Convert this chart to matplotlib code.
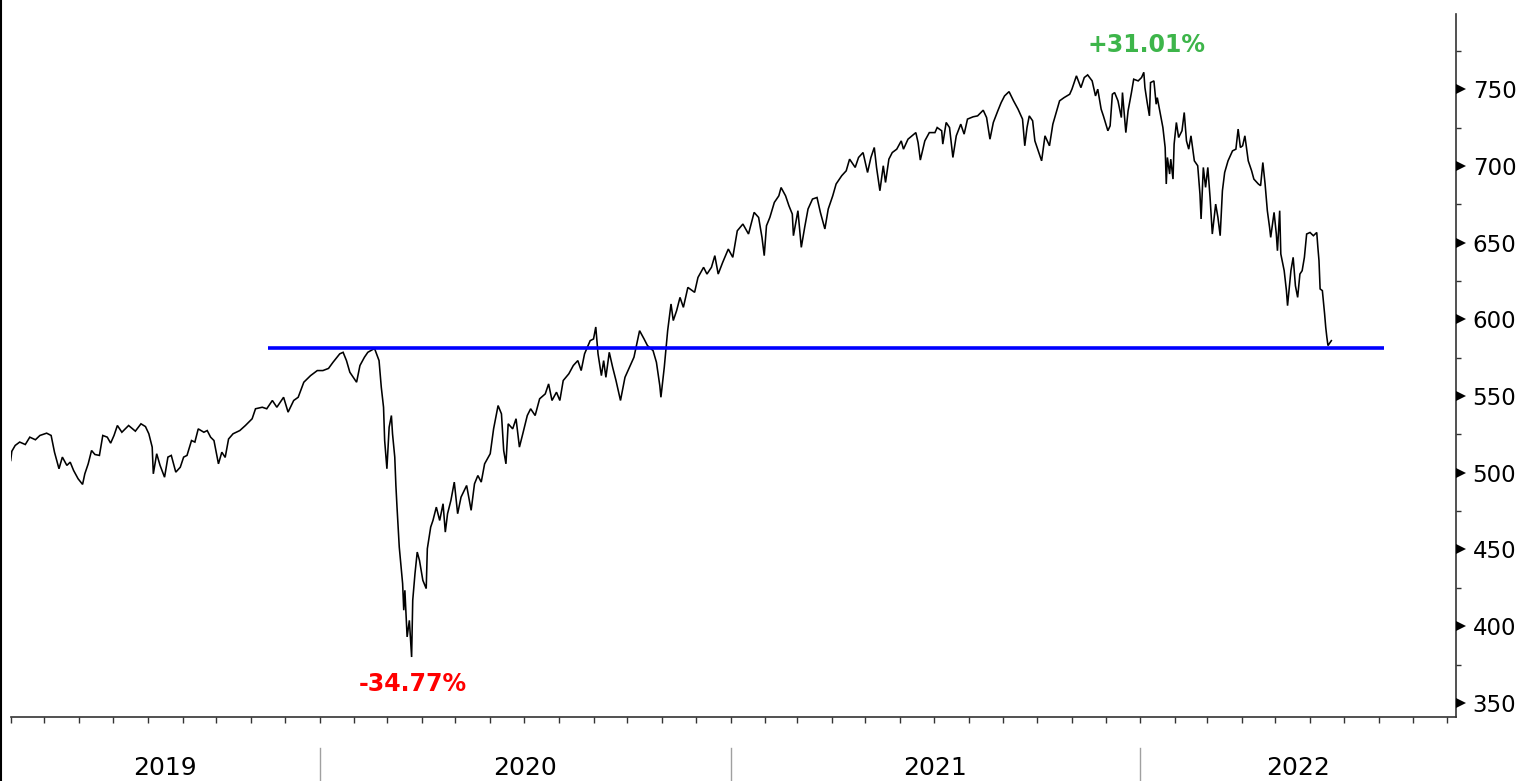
import matplotlib
matplotlib.use('Agg')
import matplotlib.pyplot as plt
import matplotlib.dates as mdates
import matplotlib.transforms as mtransforms
from matplotlib.lines import Line2D
from matplotlib.ticker import FixedLocator, NullFormatter
import pandas as pd

# ---------------- data ----------------
dates = [
    '2019-04-01', '2019-04-02', '2019-04-05', '2019-04-09', '2019-04-14', '2019-04-18', '2019-04-23', '2019-04-27',
    '2019-05-03', '2019-05-07', '2019-05-10', '2019-05-14', '2019-05-17', '2019-05-21', '2019-05-24', '2019-05-27',
    '2019-05-31', '2019-06-04', '2019-06-06', '2019-06-09', '2019-06-12', '2019-06-15', '2019-06-19', '2019-06-22',
    '2019-06-26', '2019-06-29', '2019-07-02', '2019-07-05', '2019-07-09', '2019-07-12', '2019-07-15', '2019-07-21',
    '2019-07-26', '2019-07-30', '2019-08-02', '2019-08-05', '2019-08-06', '2019-08-09', '2019-08-12', '2019-08-16',
    '2019-08-19', '2019-08-22', '2019-08-26', '2019-08-30', '2019-09-02', '2019-09-05', '2019-09-09', '2019-09-12',
    '2019-09-15', '2019-09-20', '2019-09-23', '2019-09-26', '2019-09-29', '2019-10-03', '2019-10-06', '2019-10-09',
    '2019-10-12', '2019-10-16', '2019-10-22', '2019-10-27', '2019-11-02', '2019-11-05', '2019-11-11', '2019-11-15',
    '2019-11-20', '2019-11-24', '2019-11-30', '2019-12-04', '2019-12-09', '2019-12-13', '2019-12-18', '2019-12-24',
    '2019-12-30',
    '2020-01-04', '2020-01-09', '2020-01-13', '2020-01-19', '2020-01-22', '2020-01-25', '2020-01-28', '2020-02-03',
    '2020-02-06', '2020-02-10', '2020-02-13', '2020-02-19', '2020-02-23', '2020-02-25', '2020-02-27', '2020-02-28',
    '2020-03-01', '2020-03-03', '2020-03-05', '2020-03-06', '2020-03-08', '2020-03-09', '2020-03-10', '2020-03-12',
    '2020-03-15', '2020-03-16', '2020-03-17', '2020-03-19', '2020-03-21', '2020-03-23', '2020-03-24', '2020-03-26',
    '2020-03-28', '2020-03-30', '2020-04-02', '2020-04-05', '2020-04-06', '2020-04-09', '2020-04-11', '2020-04-14',
    '2020-04-17', '2020-04-20', '2020-04-22', '2020-04-24', '2020-04-27', '2020-04-30', '2020-05-03', '2020-05-06',
    '2020-05-11', '2020-05-15', '2020-05-18', '2020-05-21', '2020-05-24', '2020-05-27', '2020-06-01', '2020-06-04',
    '2020-06-08', '2020-06-11', '2020-06-13', '2020-06-15', '2020-06-17', '2020-06-21', '2020-06-24', '2020-06-27',
    '2020-06-30', '2020-07-04', '2020-07-07', '2020-07-11', '2020-07-15', '2020-07-20', '2020-07-23', '2020-07-26',
    '2020-07-30', '2020-08-02', '2020-08-05', '2020-08-10', '2020-08-14', '2020-08-18', '2020-08-21', '2020-08-24',
    '2020-08-29', '2020-09-01', '2020-09-03', '2020-09-05', '2020-09-08', '2020-09-10', '2020-09-12', '2020-09-15',
    '2020-09-18', '2020-09-21', '2020-09-25', '2020-09-29', '2020-10-03', '2020-10-07', '2020-10-12', '2020-10-16',
    '2020-10-19', '2020-10-24', '2020-10-27', '2020-10-30', '2020-10-31', '2020-11-03', '2020-11-06', '2020-11-09',
    '2020-11-11', '2020-11-14', '2020-11-17', '2020-11-20', '2020-11-24', '2020-11-30', '2020-12-03', '2020-12-08',
    '2020-12-11', '2020-12-15', '2020-12-18', '2020-12-21', '2020-12-25', '2020-12-30',
    '2021-01-03', '2021-01-07', '2021-01-12', '2021-01-17', '2021-01-22', '2021-01-26', '2021-01-29', '2021-01-31',
    '2021-02-02', '2021-02-05', '2021-02-09', '2021-02-13', '2021-02-15', '2021-02-19', '2021-02-22', '2021-02-25',
    '2021-02-26', '2021-03-02', '2021-03-05', '2021-03-08', '2021-03-11', '2021-03-15', '2021-03-19', '2021-03-22',
    '2021-03-26', '2021-03-29', '2021-04-02', '2021-04-05', '2021-04-10', '2021-04-14', '2021-04-17', '2021-04-22',
    '2021-04-25', '2021-04-29', '2021-05-03', '2021-05-06', '2021-05-09', '2021-05-11', '2021-05-14', '2021-05-17',
    '2021-05-19', '2021-05-22', '2021-05-25', '2021-05-29', '2021-06-02', '2021-06-04', '2021-06-08', '2021-06-15',
    '2021-06-17', '2021-06-19', '2021-06-23', '2021-06-27', '2021-07-02', '2021-07-04', '2021-07-08', '2021-07-09',
    '2021-07-12', '2021-07-15', '2021-07-18', '2021-07-21', '2021-07-25', '2021-07-28', '2021-07-31', '2021-08-05',
    '2021-08-09', '2021-08-14', '2021-08-17', '2021-08-20', '2021-08-23', '2021-08-27', '2021-08-30', '2021-09-02',
    '2021-09-06', '2021-09-10', '2021-09-14', '2021-09-18', '2021-09-20', '2021-09-22', '2021-09-24', '2021-09-27',
    '2021-09-29', '2021-10-02', '2021-10-05', '2021-10-08', '2021-10-12', '2021-10-15', '2021-10-18', '2021-10-21',
    '2021-10-25', '2021-10-30', '2021-11-01', '2021-11-05', '2021-11-09', '2021-11-12', '2021-11-15', '2021-11-19',
    '2021-11-22', '2021-11-24', '2021-11-27', '2021-11-29', '2021-12-03', '2021-12-05', '2021-12-07', '2021-12-09',
    '2021-12-12', '2021-12-15', '2021-12-16', '2021-12-19', '2021-12-21', '2021-12-24', '2021-12-26', '2021-12-30',
    '2022-01-02', '2022-01-04', '2022-01-05', '2022-01-07', '2022-01-09', '2022-01-10', '2022-01-13', '2022-01-15',
    '2022-01-16', '2022-01-19', '2022-01-21', '2022-01-23', '2022-01-24', '2022-01-25', '2022-01-27', '2022-01-28',
    '2022-01-30', '2022-01-31', '2022-02-02', '2022-02-04', '2022-02-07', '2022-02-09', '2022-02-11', '2022-02-13',
    '2022-02-15', '2022-02-18', '2022-02-21', '2022-02-23', '2022-02-24', '2022-02-26', '2022-02-28', '2022-03-02',
    '2022-03-04', '2022-03-06', '2022-03-09', '2022-03-11', '2022-03-13', '2022-03-15', '2022-03-17', '2022-03-20',
    '2022-03-24', '2022-03-27', '2022-03-29', '2022-03-31', '2022-04-02', '2022-04-04', '2022-04-07', '2022-04-10',
    '2022-04-12', '2022-04-16', '2022-04-18', '2022-04-20', '2022-04-22', '2022-04-24', '2022-04-26', '2022-04-27',
    '2022-04-30', '2022-05-02', '2022-05-03', '2022-05-05', '2022-05-06', '2022-05-09', '2022-05-11', '2022-05-12',
    '2022-05-15', '2022-05-17', '2022-05-19', '2022-05-21', '2022-05-23', '2022-05-25', '2022-05-27', '2022-05-29',
    '2022-06-01', '2022-06-04', '2022-06-07', '2022-06-08', '2022-06-09', '2022-06-10', '2022-06-12', '2022-06-14',
    '2022-06-15', '2022-06-16', '2022-06-17', '2022-06-20',
]

values = [
    508.0, 514.0, 517.8, 520.0, 518.4, 523.2, 521.5, 524.3,
    525.8, 524.3, 513.4, 502.6, 510.2, 504.8, 506.9, 501.5,
    496.1, 492.4, 499.3, 505.8, 514.5, 511.9, 511.3, 524.3,
    523.2, 519.3, 524.3, 530.8, 526.4, 528.6, 530.8, 527.1,
    531.9, 530.1, 525.4, 516.7, 499.3, 512.4, 504.8, 497.1,
    510.2, 511.3, 500.4, 503.6, 510.2, 511.3, 521.0, 520.0,
    528.6, 526.4, 527.5, 523.2, 521.0, 505.8, 513.4, 510.0,
    522.0, 525.4, 527.5, 530.8, 535.2, 541.7, 542.7, 541.7,
    547.1, 542.7, 549.2, 539.5, 547.1, 549.2, 559.0, 563.3,
    566.6,
    566.6, 568.0, 572.0, 577.5, 578.5, 573.1, 565.5, 559.0,
    569.9, 575.3, 578.5, 581.0, 573.1, 555.7, 542.7, 521.0,
    502.6, 529.7, 537.3, 525.4, 510.2, 491.7, 477.6, 451.6,
    427.7, 410.4, 423.4, 393.0, 403.8, 379.9, 416.9, 434.2,
    448.3, 442.9, 429.9, 424.5, 450.5, 464.6, 468.9, 477.6,
    468.9, 479.8, 461.3, 473.3, 482.0, 493.9, 473.3, 484.1,
    491.7, 475.5, 492.8, 498.2, 493.9, 505.8, 512.4, 528.6,
    543.8, 538.4, 514.5, 505.8, 531.9, 528.6, 535.2, 516.7,
    525.4, 537.3, 541.7, 537.3, 548.2, 551.4, 557.9, 547.1,
    552.5, 547.1, 560.1, 564.5, 569.9, 573.1, 566.6, 577.5,
    586.1, 587.2, 595.0, 577.5, 563.3, 573.1, 562.2, 578.5,
    568.8, 560.1, 547.1, 562.2, 568.8, 575.3, 592.6, 587.2,
    582.9, 579.6, 572.0, 556.8, 549.2, 568.8, 592.6, 610.0,
    599.2, 605.7, 614.3, 607.8, 620.8, 617.6, 627.3, 633.9,
    629.5, 633.9, 641.5, 629.5, 637.1, 645.8,
    640.4, 657.7, 662.1, 655.6, 669.7, 666.4, 653.4, 641.5,
    661.0, 666.4, 676.2, 680.5, 685.9, 680.5, 674.0, 668.6,
    654.5, 670.8, 646.9, 659.9, 671.9, 678.4, 679.4, 669.7,
    658.9, 671.9, 680.5, 688.2, 693.6, 696.8, 704.4, 699.0,
    705.5, 708.7, 695.7, 705.5, 712.0, 699.0, 683.8, 700.1,
    689.2, 704.4, 708.7, 710.9, 716.3, 710.9, 717.4, 721.7,
    715.2, 703.8, 716.3, 721.7, 721.7, 725.0, 722.9, 714.2,
    728.3, 725.0, 705.5, 719.6, 727.2, 720.7, 730.5, 732.0,
    732.6, 736.3, 731.5, 717.4, 728.3, 735.9, 741.3, 745.6,
    748.4, 742.4, 737.0, 730.5, 713.1, 725.0, 732.6, 729.4,
    716.3, 709.8, 703.3, 719.6, 713.1, 727.2, 734.8, 742.4,
    744.5, 746.7, 750.0, 758.7, 751.0, 757.6, 759.3, 755.4,
    745.6, 750.0, 737.0, 732.6, 722.9, 726.1, 746.7, 747.8,
    742.4, 731.5, 747.8, 721.7, 735.9, 747.8, 756.5, 755.4,
    757.6, 761.0, 751.0, 741.3, 732.6, 754.3, 755.4, 740.2,
    744.5, 732.6, 725.0, 712.0, 688.2, 705.5, 694.7, 704.4,
    691.4, 714.2, 728.3, 718.5, 722.9, 734.8, 716.3, 710.9,
    719.6, 703.3, 700.1, 681.6, 665.4, 699.0, 686.0, 699.0,
    679.4, 655.6, 675.1, 666.4, 654.5, 683.8, 695.7, 703.3,
    709.8, 710.9, 724.0, 712.0, 713.1, 719.6, 703.3, 696.8,
    691.4, 688.2, 687.1, 702.2, 688.2, 670.8, 659.9, 653.4,
    669.7, 655.6, 644.7, 670.8, 642.6, 631.7, 618.7, 608.9,
    631.7, 640.4, 621.9, 614.3, 629.5, 631.7, 640.4, 655.6,
    656.6, 654.5, 656.6, 646.9, 638.2, 619.8, 618.7, 603.5,
    594.8, 588.3, 582.9, 586.1,
]

support_level = 581.0
support_start = '2019-11-16'
support_end = '2022-08-06'

low_label = '-34.77%'
low_label_date = '2020-03-24'
low_label_value = 362.0
high_label = '+31.01%'
high_label_date = '2022-01-06'
high_label_value = 779.0

year_labels = ['2019', '2020', '2021', '2022']
year_bounds = ['2019-04-01', '2020-01-01', '2021-01-01', '2022-01-01', '2022-10-09']
ytick_values = [350, 400, 450, 500, 550, 600, 650, 700, 750]
yminor_values = [375, 425, 475, 525, 575, 625, 675, 725, 775]
y_limits = (341, 799)

# ---------------- figure ----------------
W, H = 1521, 781
fig = plt.figure(figsize=(W / 100, H / 100), dpi=100)
fig.patch.set_facecolor('white')
ax = fig.add_axes([10.7 / W, 1 - 716.7 / H, (1456 - 10.7) / W, (716.7 - 14) / H])

xd = pd.to_datetime(dates)
ax.plot(xd, values, color='black', lw=1.15, solid_joinstyle='miter')
ax.hlines(support_level, pd.Timestamp(support_start), pd.Timestamp(support_end),
          color='#0000ff', lw=2.6, zorder=3)

ax.text(pd.Timestamp(low_label_date), low_label_value, low_label, color='#ff0000',
        fontsize=17, fontweight='bold', ha='center', va='center', family='DejaVu Sans')
ax.text(pd.Timestamp(high_label_date), high_label_value, high_label, color='#3db54a',
        fontsize=17, fontweight='bold', ha='center', va='center', family='DejaVu Sans')

ax.set_xlim(pd.Timestamp(year_bounds[0]), pd.Timestamp(year_bounds[-1]))
ax.set_ylim(*y_limits)

# spines
for s in ['top', 'left']:
    ax.spines[s].set_visible(False)
for s in ['right', 'bottom']:
    ax.spines[s].set_color('#333333')
    ax.spines[s].set_linewidth(1.2)

# y axis on the right
ax.yaxis.tick_right()
ax.yaxis.set_major_locator(FixedLocator(ytick_values))
ax.yaxis.set_minor_locator(FixedLocator(yminor_values))
ax.tick_params(axis='y', which='major', length=0, pad=12, labelsize=16.5, labelcolor='black')
ax.tick_params(axis='y', which='minor', length=3.5, width=1.0, color='#333333', direction='out')
ax.tick_params(axis='y', which='both', left=False, right=True)

# triangle markers at the major ticks (pointing right, just outside the spine)
tri_trans = (mtransforms.blended_transform_factory(ax.transAxes, ax.transData)
             + mtransforms.ScaledTranslation(3.6 / 72, 0, fig.dpi_scale_trans))
tri_line = Line2D([1.0] * len(ytick_values), ytick_values, linestyle='none', marker='>',
                  markersize=7, color='black', markeredgewidth=0, transform=tri_trans,
                  clip_on=False, zorder=6)
ax.add_artist(tri_line)

# x axis: monthly ticks, no labels
ax.xaxis.set_major_locator(mdates.MonthLocator())
ax.xaxis.set_major_formatter(NullFormatter())
ax.tick_params(axis='x', which='major', length=4, width=1.0, color='#333333', direction='out')

# year separators and labels
xtrans = mtransforms.blended_transform_factory(ax.transData, ax.transAxes)
bounds = pd.to_datetime(year_bounds)
for b in bounds[1:-1]:
    ax.plot([b, b], [-0.045, -0.095], transform=xtrans, color='#a0a0a0', lw=1.0, clip_on=False)
for i, lab in enumerate(year_labels):
    mid = bounds[i] + (bounds[i + 1] - bounds[i]) / 2
    ax.text(mid, -0.073, lab, transform=xtrans, ha='center', va='center', fontsize=18, color='black')

# left border line of the picture
fig.add_artist(Line2D([0.0008, 0.0008], [0, 1], transform=fig.transFigure, color='black', lw=1.5))

fig.savefig('out.png', dpi=100, facecolor='white')
